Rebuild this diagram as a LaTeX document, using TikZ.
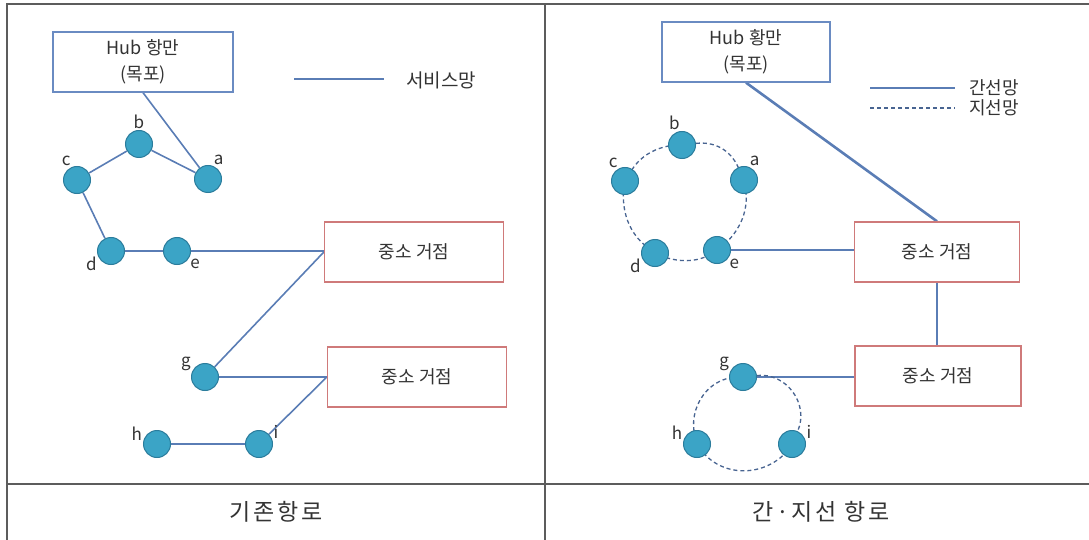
\documentclass[tikz,border=0pt]{standalone}
\usepackage{fontspec}
\setmainfont{Noto Sans CJK KR}
\usepackage{xcolor}
\usepackage{tikz}
\usetikzlibrary{backgrounds}
\definecolor{portfill}{HTML}{3BA4C6}
\definecolor{portedge}{HTML}{2B7C9C}
\definecolor{linkblue}{HTML}{5A7DB5}
\definecolor{hubblue}{HTML}{6A8BC2}
\definecolor{sitered}{HTML}{CF7A7A}
\definecolor{tablegray}{HTML}{5C5C5C}
\definecolor{txt}{HTML}{333333}

\begin{document}
\begin{tikzpicture}[
        x=1pt, y=-1pt,
        every node/.style={text=txt},
        port/.style={
            circle,
            draw=portedge,
            fill=portfill,
            line width=1pt,
            minimum size=27pt,
            inner sep=0pt,
            label distance=2pt
        },
        plabel/.style={font=\fontsize{17}{17}\selectfont, inner sep=1pt},
        hubbox/.style={
            rectangle,
            draw=hubblue,
            line width=1.3pt,
            fill=white,
            align=center,
            minimum height=60pt,
            font=\fontsize{18}{26}\selectfont
        },
        sitebox/.style={
            rectangle,
            draw=sitered,
            line width=1.3pt,
            fill=white,
            minimum height=60pt,
            font=\fontsize{18}{18}\selectfont
        },
        svcline/.style={draw=linkblue, line width=1.6pt},
        trunkline/.style={draw=linkblue, line width=2.6pt},
        branchline/.style={draw=linkblue!80!black, line width=1.3pt, dash pattern=on 4pt off 3pt},
        legendtext/.style={anchor=west, inner sep=0pt, font=\fontsize{19}{19}\selectfont},
        celltext/.style={font=\fontsize{23}{23}\selectfont\addfontfeatures{LetterSpace=12}},
        tableline/.style={draw=tablegray, line width=1.5pt}
    ]
        \useasboundingbox (0,0) rectangle (1089,540);
        \draw[tableline] (7,540) -- (7,4) -- (1089,4);
        \draw[tableline] (545,4) -- (545,540);
        \draw[tableline] (7,484) -- (1089,484);

        \node[hubbox, minimum width=180pt] (hubl) at (143,62) {Hub 항만\\(목포)};
        \node[port, label={[plabel]90:b}] (lb) at (139,144) {};
        \node[port, label={[plabel]70:a}] (la) at (208,179) {};
        \node[port, label={[plabel]112:c}] (lc) at (77,180) {};
        \node[port, label={[plabel]200:d}] (ld) at (111,251) {};
        \node[port, label={[plabel]330:e}] (le) at (177,251) {};
        \node[port, label={[plabel]160:g}] (lg) at (205,377) {};
        \node[port, label={[plabel]170:h}] (lh) at (157,444) {};
        \node[port, label={[plabel]17:i}] (li) at (259,444) {};
        \node[sitebox, minimum width=179pt] (sitel1) at (414,252) {중소 거점};
        \node[sitebox, minimum width=179pt] (sitel2) at (417,377) {중소 거점};
        \coordinate (svcs) at (294,79);
        \coordinate (svce) at (384,79);
        \node[legendtext] (svctxt) at (406,80) {서비스망};

        \node[hubbox, minimum width=168pt] (hubr) at (746,52) {Hub 황만\\(목포)};
        \node[port, label={[plabel]95:b}] (rb) at (682,145) {};
        \node[port, label={[plabel]70:a}] (ra) at (744,180) {};
        \node[port, label={[plabel]117:c}] (rc) at (625,181) {};
        \node[port, label={[plabel]200:d}] (rd) at (655,253) {};
        \node[port, label={[plabel]325:e}] (re) at (717,250) {};
        \node[port, label={[plabel]157:g}] (rg) at (743,377) {};
        \node[port, label={[plabel]165:h}] (rh) at (697,444) {};
        \node[port, label={[plabel]18:i}] (ri) at (792,444) {};
        \node[sitebox, minimum width=165pt] (siter1) at (937,252) {중소 거점};
        \node[sitebox, minimum width=166pt] (siter2) at (938,376) {중소 거점};
        \coordinate (trks) at (870,88);
        \coordinate (trke) at (955,88);
        \coordinate (brcs) at (870,108);
        \coordinate (brce) at (955,108);
        \node[legendtext, font=\fontsize{18}{18}\selectfont] (trktxt) at (969,88) {간선망};
        \node[legendtext, font=\fontsize{18}{18}\selectfont] (brctxt) at (969,108) {지선망};

        \node[celltext] (capl) at (276,512) {기존항로};
        \node[celltext] (capr) at (821,512) {간·지선 항로};

        \begin{pgfonlayer}{background}
        \draw[svcline] (svcs) -- (svce);
        \draw[svcline] (hubl.south) -- (la);
        \draw[svcline] (lb) -- (la);
        \draw[svcline] (lc) -- (lb);
        \draw[svcline] (lc) -- (ld);
        \draw[svcline] (ld) -- (le);
        \draw[svcline] (le) -- (le -| sitel1.west);
        \draw[svcline] (lg) -- (sitel1.west);
        \draw[svcline] (lg) -- (lg -| sitel2.west);
        \draw[svcline] (li) -- (sitel2.west);
        \draw[svcline] (lh) -- (li);

        \draw[trunkline] (trks) -- (trke);
        \draw[branchline] (brcs) -- (brce);
        \draw[trunkline] (hubr.south) -- (siter1.north);
        \draw[trunkline] (re) -- (re -| siter1.west);
        \draw[svcline, line width=2pt] (siter1.south) -- (siter1.south |- siter2.north);
        \draw[svcline] (rg) -- (rg -| siter2.west);
        \draw[branchline] (rb) to[bend left=36] (ra) to[bend left=36] (re)
            to[bend left=31] (rd) to[bend left=36] (rc) to[bend left=36] (rb);
        \draw[branchline] (rg) to[bend left=60, looseness=1.1] (ri)
            to[bend left=60, looseness=1.1] (rh) to[bend left=60, looseness=1.1] (rg);
        \end{pgfonlayer}
    \end{tikzpicture}
\end{document}
